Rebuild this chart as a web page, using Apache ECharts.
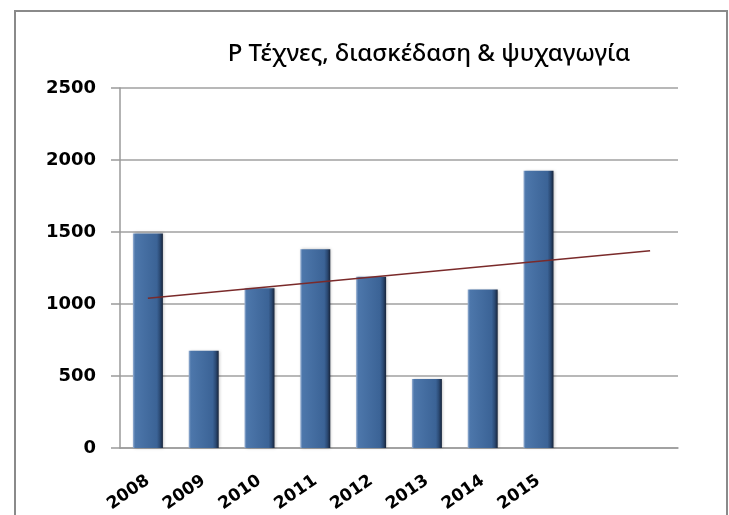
<!DOCTYPE html>
<html>
<head>
<meta charset="utf-8">
<script src="https://cdn.jsdelivr.net/npm/echarts@6/dist/echarts.min.js"></script>
<style>
  html, body { margin: 0; padding: 0; background: #fff; }
  #bar { width: 729px; height: 515px; }
</style>
</head>
<body>
<div id="bar"></div>
<script>
var years = ['2008', '2009', '2010', '2011', '2012', '2013', '2014', '2015', '', ''];
var values = [1490, 675, 1110, 1380, 1190, 480, 1100, 1925];
// trend line end points
var trend = [1040, null, null, null, null, null, null, null, null, 1370];
var yTicks = [0, 500, 1000, 1500, 2000, 2500];

var chart = echarts.init(document.getElementById('bar'), null, {renderer: 'canvas'});

var barColor = new echarts.graphic.LinearGradient(0, 0, 1, 0, [
    {offset: 0, color: '#9ab2d4'},
    {offset: 0.07, color: '#4d77ab'},
    {offset: 0.8, color: '#3b6396'},
    {offset: 0.9, color: '#2b4a74'},
    {offset: 1, color: '#17243a'}
]);

chart.setOption({
    animation: false,
    title: {
        text: 'P Τέχνες, διασκέδαση & ψυχαγωγία',
        left: 424,
        top: 37,
        textAlign: 'center',
        textStyle: {fontFamily: 'Noto Sans', fontSize: 24, fontWeight: 500, color: '#000'}
    },
    graphic: [{
        type: 'rect',
        shape: {x: 15, y: 11, width: 712, height: 520},
        style: {fill: 'none', stroke: '#8a8a8a', lineWidth: 2},
        silent: true,
        z: 100
    }],
    grid: {left: 120, right: 51, top: 88, bottom: 67, outerBoundsMode: 'none'},
    xAxis: {
        type: 'category',
        data: years,
        axisLine: {lineStyle: {color: '#9a9a9a', width: 1.5}},
        axisTick: {length: 8, lineStyle: {color: '#9a9a9a', width: 1.5}},
        axisLabel: {
            rotate: 35,
            margin: 31,
            color: '#000',
            fontFamily: 'DejaVu Sans',
            fontWeight: 'bold',
            fontSize: 17
        }
    },
    yAxis: {
        type: 'value',
        min: yTicks[0],
        max: yTicks[yTicks.length - 1],
        interval: 500,
        axisLine: {show: true, lineStyle: {color: '#9a9a9a', width: 1.5}},
        axisTick: {show: true, length: 9, lineStyle: {color: '#9a9a9a', width: 1.5}},
        splitLine: {lineStyle: {color: '#a0a0a0', width: 1.5}},
        axisLabel: {
            margin: 24,
            color: '#000',
            fontFamily: 'DejaVu Sans',
            fontWeight: 'bold',
            fontSize: 18,
            formatter: function (v) { return String(v); }
        }
    },
    series: [{
        type: 'bar',
        data: values,
        barWidth: 30,
        itemStyle: {
            color: barColor,
            shadowColor: 'rgba(0,0,0,0.25)',
            shadowBlur: 3,
            shadowOffsetX: 1
        }
    }, {
        type: 'line',
        data: trend,
        connectNulls: true,
        symbol: 'none',
        lineStyle: {color: '#7a2a2a', width: 1.5},
        z: 5
    }]
});
</script>
</body>
</html>
